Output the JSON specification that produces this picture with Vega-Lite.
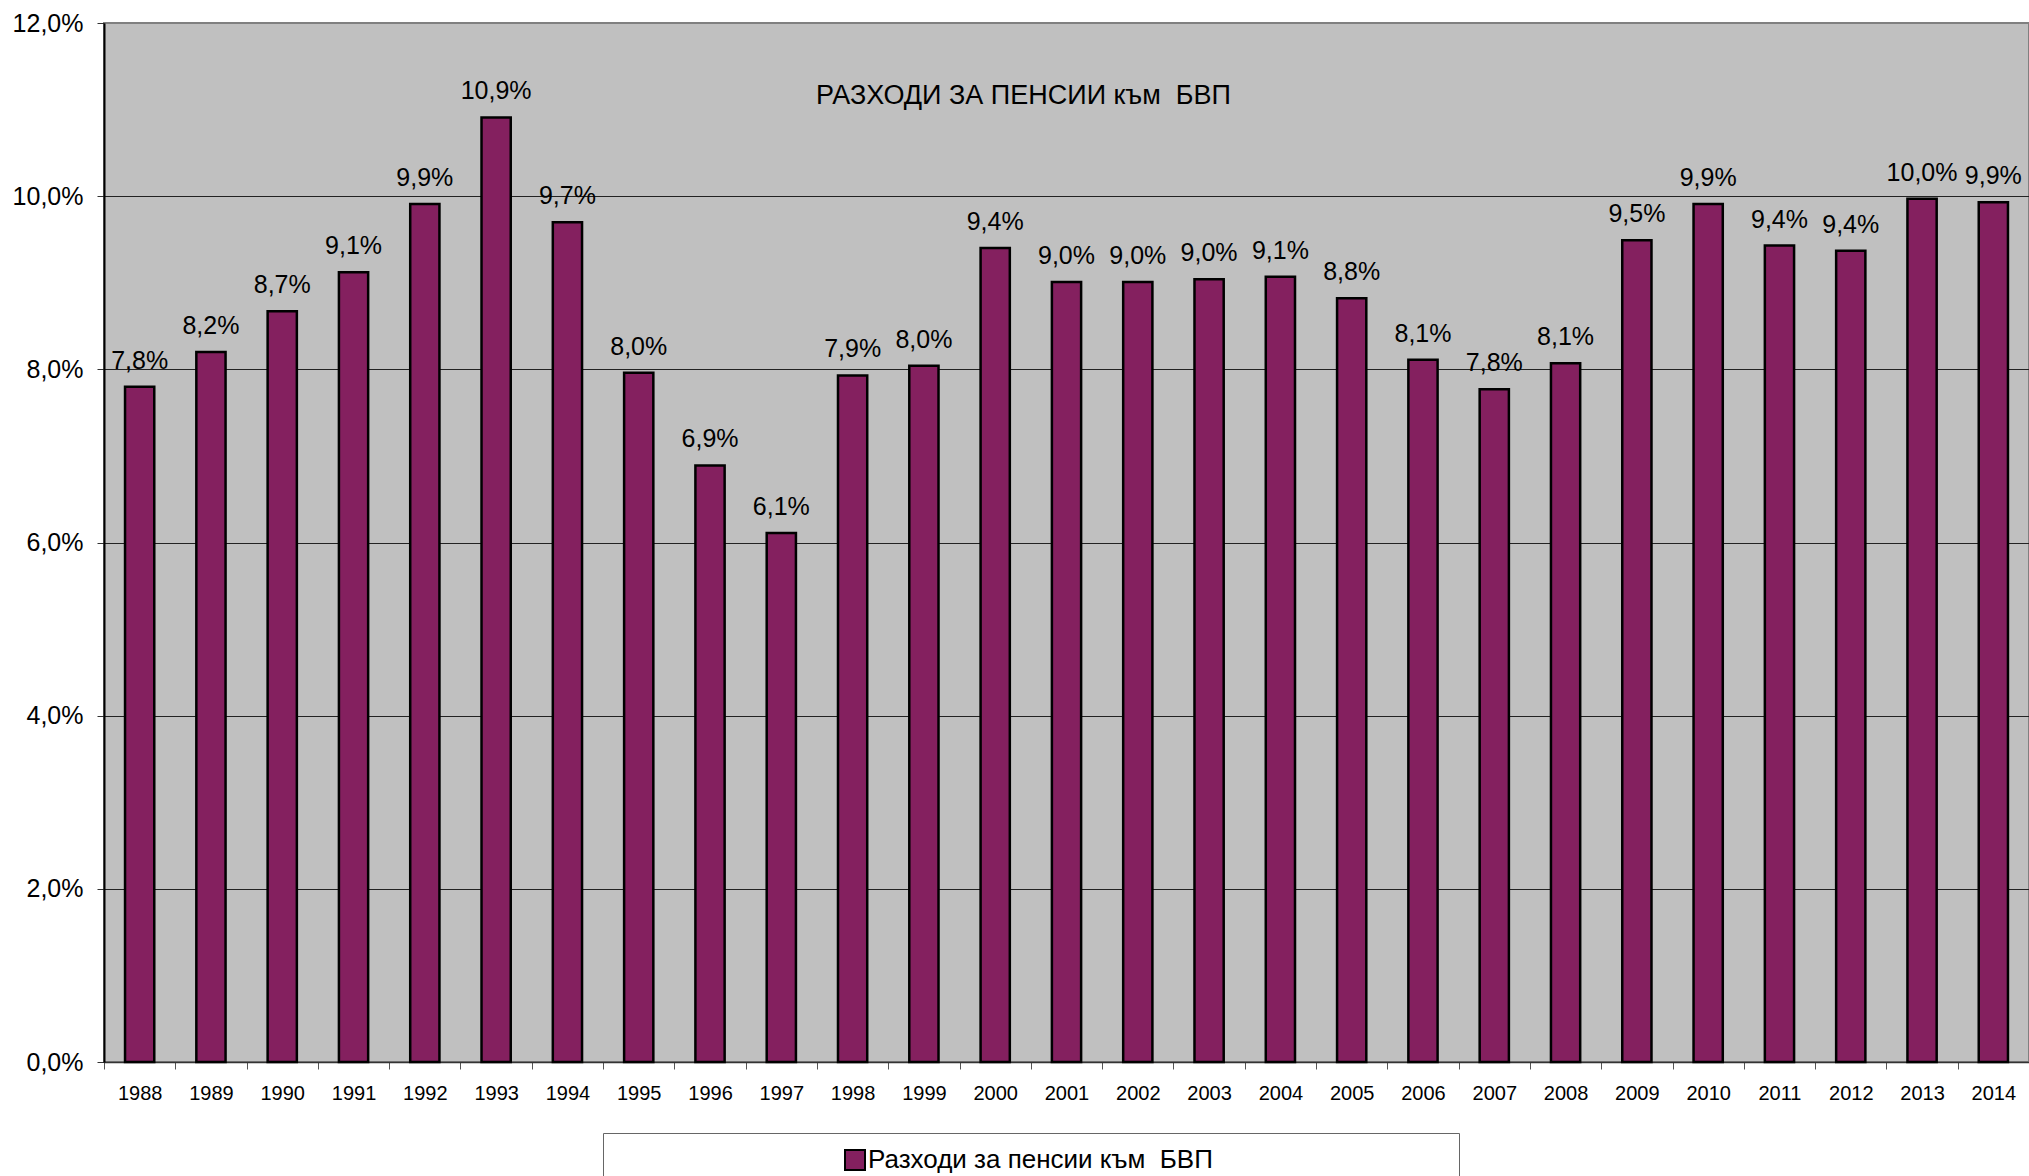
{
  "$schema": "https://vega.github.io/schema/vega-lite/v6.json",
  "width": 1925,
  "height": 1039,
  "autosize": "none",
  "padding": {"left": 104, "top": 23, "right": 0, "bottom": 114},
  "background": "white",
  "config": {
    "locale": {"number": {"decimal": ",", "thousands": " ", "grouping": [3], "currency": ["", ""]}},
    "view": {"fill": "#C0C0C0", "stroke": "#808080", "strokeWidth": 2},
    "font": "Liberation Sans"
  },
  "title": {
    "text": "РАЗХОДИ ЗА ПЕНСИИ към\u00a0 БВП",
    "offset": -120,
    "baseline": "alphabetic",
    "dx": -43,
    "anchor": "middle",
    "fontSize": 27,
    "fontWeight": "normal",
    "font": "Liberation Sans",
    "color": "black"
  },
  "data": {
    "values": [
      {"year": "1988", "value": 0.0780},
      {"year": "1989", "value": 0.0820},
      {"year": "1990", "value": 0.0867},
      {"year": "1991", "value": 0.0912},
      {"year": "1992", "value": 0.0991},
      {"year": "1993", "value": 0.1091},
      {"year": "1994", "value": 0.0970},
      {"year": "1995", "value": 0.0796},
      {"year": "1996", "value": 0.0689},
      {"year": "1997", "value": 0.0611},
      {"year": "1998", "value": 0.0793},
      {"year": "1999", "value": 0.0804},
      {"year": "2000", "value": 0.0940},
      {"year": "2001", "value": 0.0901},
      {"year": "2002", "value": 0.0901},
      {"year": "2003", "value": 0.0904},
      {"year": "2004", "value": 0.0907},
      {"year": "2005", "value": 0.0882},
      {"year": "2006", "value": 0.0811},
      {"year": "2007", "value": 0.0777},
      {"year": "2008", "value": 0.0807},
      {"year": "2009", "value": 0.0949},
      {"year": "2010", "value": 0.0991},
      {"year": "2011", "value": 0.0943},
      {"year": "2012", "value": 0.0937},
      {"year": "2013", "value": 0.0997},
      {"year": "2014", "value": 0.0993}
    ]
  },
  "encoding": {
    "x": {
      "field": "year",
      "type": "ordinal",
      "scale": {"paddingInner": 0, "paddingOuter": 0},
      "axis": {
        "title": null,
        "labelAngle": 0,
        "labelFontSize": 20,
        "labelColor": "black",
        "labelPadding": 14,
        "tickBand": "extent",
        "tickSize": 7,
        "tickColor": "#555555",
        "domainColor": "#333333",
        "domainWidth": 1.5,
        "grid": false
      }
    },
    "y": {
      "field": "value",
      "type": "quantitative",
      "scale": {"domain": [0, 0.12], "nice": false},
      "axis": {
        "title": null,
        "format": ".1%",
        "values": [0, 0.02, 0.04, 0.06, 0.08, 0.1, 0.12],
        "labelFontSize": 25,
        "labelColor": "black",
        "labelPadding": 14,
        "tickSize": 7,
        "tickColor": "#333333",
        "domainColor": "black",
        "domainWidth": 2,
        "grid": true,
        "gridColor": {"condition": {"test": "datum.value >= 0.12", "value": "#808080"}, "value": "#222222"},
        "gridWidth": 1,
        "gridOpacity": 1
      }
    }
  },
  "layer": [
    {
      "mark": {"type": "bar", "width": {"band": 0.41}, "stroke": "black", "strokeWidth": 2.5},
      "encoding": {
        "color": {
          "datum": "Разходи за пенсии към  БВП",
          "type": "nominal",
          "scale": {"range": ["#84205F"]},
          "legend": {
            "title": null,
            "orient": "none",
            "legendX": 499,
            "legendY": 1110,
            "padding": 14,
            "symbolOffset": 225,
            "strokeColor": "#666666",
            "fillColor": "white",
            "symbolType": "square",
            "symbolSize": 400,
            "symbolStrokeColor": "black",
            "symbolStrokeWidth": 2,
            "labelFontSize": 26,
            "labelColor": "black",
            "labelOffset": 0,
            "labelLimit": 1000,
            "labelExpr": "replace(datum.label, '  ', ' \u00a0') + '\u00a0\u00a0\u00a0\u00a0\u00a0\u00a0\u00a0\u00a0\u00a0\u00a0\u00a0\u00a0\u00a0\u00a0\u00a0\u00a0\u00a0\u00a0\u00a0\u00a0\u00a0\u00a0\u00a0\u00a0\u00a0\u00a0\u00a0\u00a0\u00a0\u00a0\u00a0\u00a0\u200b'"
          }
        }
      }
    },
    {
      "mark": {"type": "text", "dy": -18, "baseline": "alphabetic", "fontSize": 25, "color": "black"},
      "encoding": {
        "text": {"field": "value", "type": "quantitative", "format": ".1%"}
      }
    }
  ]
}
